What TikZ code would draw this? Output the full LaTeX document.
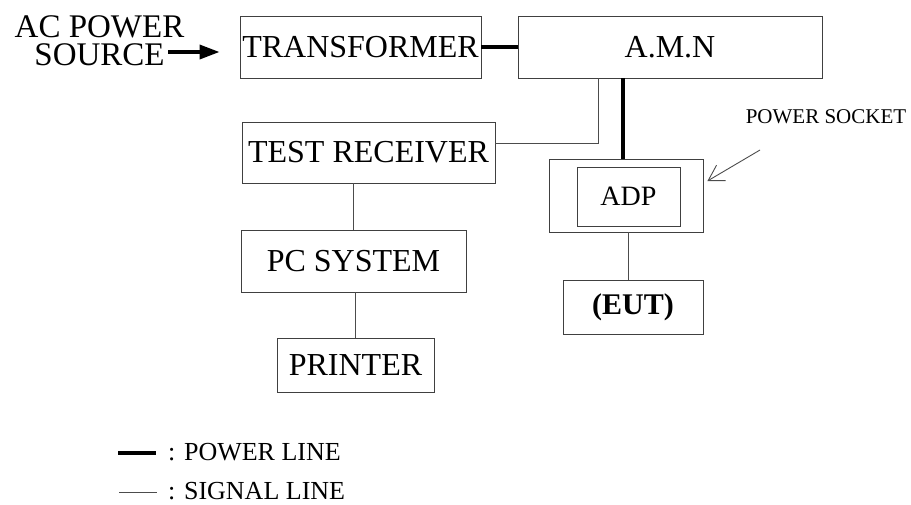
\documentclass[tikz,border=0pt]{standalone}
\usepackage{fontspec}
\setmainfont{Liberation Serif}
\usetikzlibrary{arrows.meta}
\begin{document}
\begin{tikzpicture}[
        x=1pt, y=-1pt,
        box/.style={draw=black!75, line width=0.9pt, inner sep=0pt, font=\fontsize{32}{34}\selectfont},
        power/.style={draw=black, line width=3.8pt},
        signal/.style={draw=black!70, line width=0.9pt},
        label/.style={inner sep=0pt, align=center, font=\fontsize{33}{28}\selectfont},
        legend/.style={inner sep=0pt, anchor=west, font=\fontsize{26}{28}\selectfont}
    ]
        \useasboundingbox (0,0) rectangle (911,504);

        % Blocchi
        \node[box, minimum width=241pt, minimum height=62pt] (trans) at (360.5,47) {TRANSFORMER};
        \node[box, minimum width=304pt, minimum height=62pt] (amn) at (670,47) {A.M.N};
        \node[box, minimum width=253pt, minimum height=61pt] (recv) at (368.5,152.5) {TEST RECEIVER};
        \node[box, minimum width=225pt, minimum height=62pt] (pc) at (353.5,261) {PC SYSTEM};
        \node[box, minimum width=157pt, minimum height=54pt] (printer) at (355.5,365) {PRINTER};
        \node[box, minimum width=154pt, minimum height=73pt] (socket) at (626,195.5) {};
        \node[box, minimum width=103pt, minimum height=59pt, font=\fontsize{28}{30}\selectfont] (adp) at (628.5,196.5) {ADP};
        \node[box, minimum width=140pt, minimum height=54pt, font=\fontsize{30}{32}\selectfont\bfseries] (eut) at (633,307) {(EUT)};

        % Sorgente
        \node[label, anchor=base] (src) at (99.5,65) {AC POWER\\SOURCE};
        \coordinate (acIn) at (168,52);
        \draw[power, line width=3.5pt, -{Triangle[length=20pt,width=14pt]}, shorten >=20pt] (acIn) -- (acIn -| trans.west);

        % Collegamenti
        \draw[power] (trans.east) -- (amn.west);
        \draw[signal] ([yshift=9.5pt]recv.east) -| ([xshift=-72pt]amn.south);
        \draw[power] ([xshift=-3pt]socket.north) -- ([xshift=-3pt]socket.north |- amn.south);
        \draw[signal] ([xshift=2pt]socket.south) -- ([xshift=2pt]socket.south |- eut.north);
        \draw[signal] (pc.north) -- (pc.north |- recv.south);
        \draw[signal] (printer.north) -- (printer.north |- pc.south);

        % Presa
        \node[inner sep=0pt, font=\fontsize{21}{23}\selectfont] (sockLabel) at (826,117) {POWER SOCKET};
        \coordinate (sockTail) at (760,150);
        \draw[signal, -{Straight Barb[length=15pt,width=18pt]}] (sockTail) -- ([xshift=4pt,yshift=14.5pt]socket.east);

        % Legenda
        \coordinate (pwrA) at (118,453);
        \coordinate (pwrB) at (156,453);
        \coordinate (sigA) at (119,492);
        \coordinate (sigB) at (157,492);
        \draw[power] (pwrA) -- (pwrB);
        \draw[signal] (sigA) -- (sigB);
        \node[legend] (pwrText) at (168,452) {: POWER LINE};
        \node[legend] (sigText) at (168,491) {: SIGNAL LINE};

    \end{tikzpicture}
\end{document}
